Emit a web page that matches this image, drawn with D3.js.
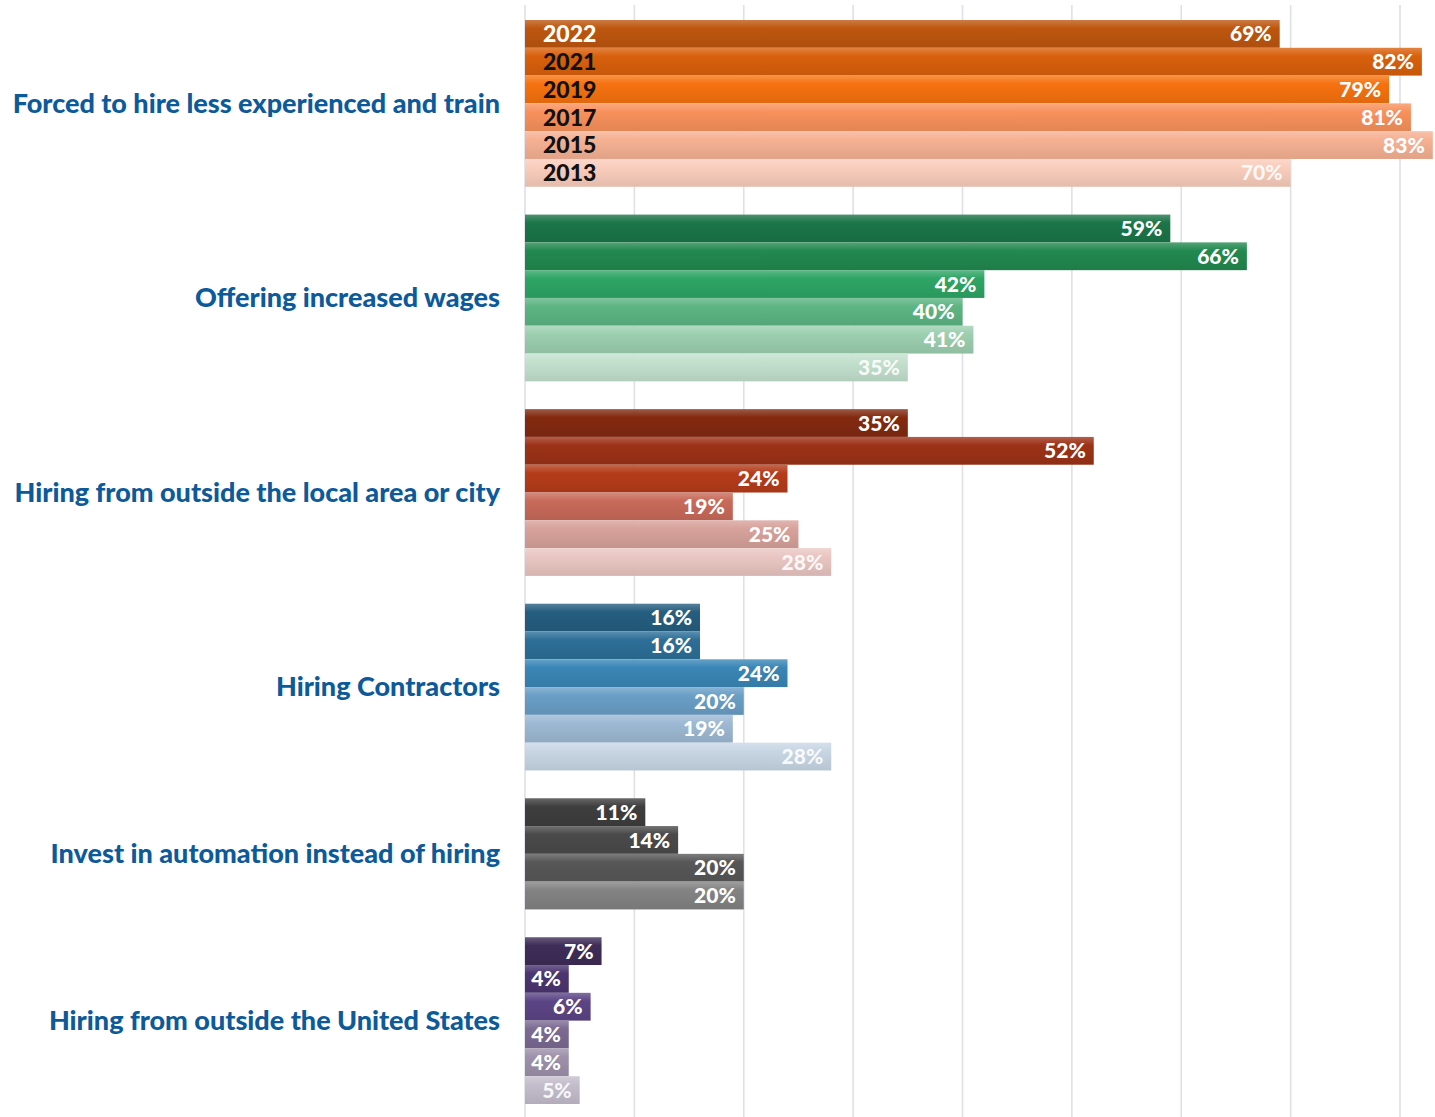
<!DOCTYPE html>
<html>
<head>
<meta charset="utf-8">
<script src="https://cdn.jsdelivr.net/npm/d3@7"></script>
<style>
  html, body { margin: 0; padding: 0; background: #ffffff; }
  svg { display: block; }
</style>
</head>
<body>
<svg id="chart" width="1435" height="1117"></svg>
<script>
// Survey responses: how employers cope with hiring difficulties, by survey year
const categories = [
  "Forced to hire less experienced and train",
  "Offering increased wages",
  "Hiring from outside the local area or city",
  "Hiring Contractors",
  "Invest in automation instead of hiring",
  "Hiring from outside the United States"
];
const years = ["2022", "2021", "2019", "2017", "2015", "2013"];

// Percent of respondents, one array per category, ordered by years above
const hireLessExperienced = [69, 82, 79, 81, 83, 70];
const increasedWages      = [59, 66, 42, 40, 41, 35];
const outsideLocalArea    = [35, 52, 24, 19, 25, 28];
const hiringContractors   = [16, 16, 24, 20, 19, 28];
const investAutomation    = [11, 14, 20, 20];
const outsideUS           = [7, 4, 6, 4, 4, 5];

const seriesValues = [hireLessExperienced, increasedWages, outsideLocalArea,
                      hiringContractors, investAutomation, outsideUS];

// Per-category colour ramps, darkest (most recent) first
const orangeRamp = ["#bd560f", "#d9600c", "#f6720f", "#f8915c", "#f6b193", "#f9cdbc"];
const greenRamp  = ["#1b7548", "#22894f", "#2ea565", "#5db583", "#9ccfb0", "#c3e0cd"];
const redRamp    = ["#832a10", "#9c3217", "#b53c1a", "#c86a5a", "#d7a29b", "#e9c6c2"];
const blueRamp   = ["#255e80", "#2d6f98", "#3a86b6", "#6a9fc6", "#9db9d3", "#c8d6e4"];
const grayRamp   = ["#3e3e3e", "#4a4a4a", "#575757", "#838383"];
const purpleRamp = ["#3e2d58", "#4b3670", "#5c4585", "#7c6a92", "#9d91ab", "#c4bdcc"];
const ramps = [orangeRamp, greenRamp, redRamp, blueRamp, grayRamp, purpleRamp];

const xTicks = [0, 10, 20, 30, 40, 50, 60, 70, 80];

// ---- build the row list: one slot per bar, an empty slot between categories
const rows = [];
const slots = [];
seriesValues.forEach((vals, ci) => {
  if (ci > 0) slots.push("gap-" + ci);
  vals.forEach((v, yi) => {
    const key = ci + "-" + years[yi];
    slots.push(key);
    rows.push({ key, ci, yi, year: years[yi], value: v, color: ramps[ci][yi] });
  });
});

const svg = d3.select("#chart");
const x = d3.scaleLinear().domain([0, 80]).range([525, 1400]);
const y = d3.scaleBand().domain(slots).range([20, 1104]).paddingInner(0).paddingOuter(0);

// ---- vertical grid lines
svg.append("g")
  .selectAll("line")
  .data(xTicks)
  .join("line")
  .attr("x1", d => x(d)).attr("x2", d => x(d))
  .attr("y1", 5).attr("y2", 1117)
  .attr("stroke", "#dfe0e8")
  .attr("stroke-width", 1.6);

// ---- gradients: light sheen at the top of each bar, base colour below
const defs = svg.append("defs");
rows.forEach((r, i) => {
  const c = d3.color(r.color);
  const g = defs.append("linearGradient")
    .attr("id", "grad" + i)
    .attr("x1", 0).attr("y1", 0).attr("x2", 0).attr("y2", 1);
  g.append("stop").attr("offset", "0%").attr("stop-color", d3.interpolateRgb(r.color, "#ffffff")(0.22));
  g.append("stop").attr("offset", "30%").attr("stop-color", r.color);
  g.append("stop").attr("offset", "100%").attr("stop-color", c.darker(0.25).formatHex());
});

// ---- bars
svg.append("g")
  .selectAll("rect")
  .data(rows)
  .join("rect")
  .attr("x", x(0))
  .attr("y", d => y(d.key))
  .attr("width", d => x(d.value) - x(0))
  .attr("height", y.bandwidth())
  .attr("fill", (d, i) => `url(#grad${i})`);

// ---- value labels inside bar ends
svg.append("g")
  .selectAll("text")
  .data(rows)
  .join("text")
  .attr("x", d => x(d.value) - 8)
  .attr("y", d => y(d.key) + y.bandwidth() / 2)
  .attr("dy", "0.36em")
  .attr("text-anchor", "end")
  .attr("fill", d => d.yi === 5 ? "rgba(255,255,255,0.88)" : "#ffffff")
  .style("font-family", "Lato, 'Open Sans', sans-serif")
  .style("font-weight", 900)
  .style("font-size", "21px")
  .text(d => d.value + "%");

// ---- year labels on the first category
svg.append("g")
  .selectAll("text")
  .data(rows.filter(r => r.ci === 0))
  .join("text")
  .attr("x", 543)
  .attr("y", d => y(d.key) + y.bandwidth() / 2)
  .attr("dy", "0.36em")
  .attr("fill", d => d.yi === 0 ? "#ffffff" : "#111111")
  .style("font-family", "Lato, 'Open Sans', sans-serif")
  .style("font-weight", 900)
  .style("font-size", "23px")
  .text(d => d.year);

// ---- category labels, centred on each group of bars
svg.append("g")
  .selectAll("text")
  .data(categories)
  .join("text")
  .attr("x", 500)
  .attr("y", (d, ci) => {
    const grp = rows.filter(r => r.ci === ci);
    const top = y(grp[0].key);
    const bottom = y(grp[grp.length - 1].key) + y.bandwidth();
    return (top + bottom) / 2;
  })
  .attr("dy", "0.34em")
  .attr("text-anchor", "end")
  .attr("fill", "#0d5a9b")
  .style("font-family", "Lato, 'Open Sans', sans-serif")
  .style("font-weight", 900)
  .style("font-size", "27px")
  .text(d => d);
</script>
</body>
</html>
